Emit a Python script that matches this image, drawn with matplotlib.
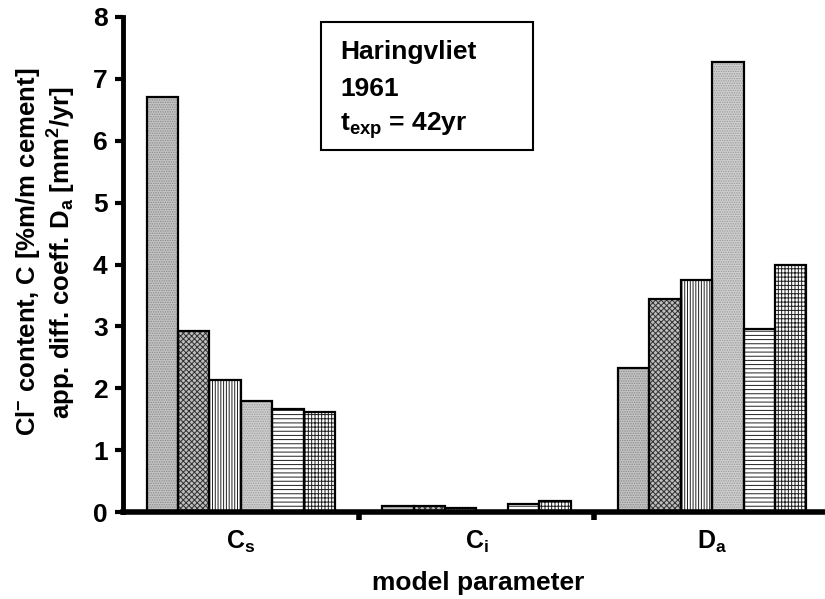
import numpy as np
import matplotlib.pyplot as plt
from matplotlib.patches import Rectangle

plt.rcParams['font.family'] = ['Liberation Sans', 'DejaVu Sans']
plt.rcParams['font.weight'] = 'bold'
plt.rcParams['mathtext.fontset'] = 'custom'
plt.rcParams['mathtext.rm'] = 'Liberation Sans:bold'
plt.rcParams['mathtext.bf'] = 'Liberation Sans:bold'
plt.rcParams['mathtext.it'] = 'Liberation Sans:bold'
plt.rcParams['hatch.linewidth'] = 0.7

# model parameters on the x axis
params = ['C$_{s}$', 'C$_{i}$', 'D$_{a}$']

# six series per parameter
s1 = [6.70, 0.09, 2.33]
s2 = [2.92, 0.09, 3.45]
s3 = [2.13, 0.06, 3.75]
s4 = [1.80, 0.00, 7.27]
s5 = [1.67, 0.13, 2.95]
s6 = [1.62, 0.17, 4.00]
series = [s1, s2, s3, s4, s5, s6]

# fill / hatch for each series
styles = [
    ('#c4c4c4', '#8a8a8a', '.......'),
    ('#bdbdbd', '#303030', 'xxxxxx'),
    ('white', '#202020', '||||||'),
    ('#cfcfcf', '#9a9a9a', '.......'),
    ('white', '#202020', '----'),
    ('white', '#202020', '|||||----'),
]

fig = plt.figure(figsize=(8.25, 5.99), dpi=100)
ax = fig.add_axes([123 / 825, (599 - 512) / 599, 707 / 825, 495 / 599])

x = np.arange(len(params))
w = 0.133
for i, vals in enumerate(series):
    pos = x + (i - 2.5) * w
    face, hc, hatch = styles[i]
    ax.bar(pos, vals, w, color=face, edgecolor=hc, hatch=hatch, linewidth=0, zorder=2)
    ax.bar(pos, vals, w, fill=False, edgecolor='black', linewidth=1.6, zorder=3)

ax.set_xlim(-0.5, 2.5)
ax.set_ylim(0, 8)
ax.set_yticks(range(0, 9))
ax.set_xticks([0.5, 1.5, 2.5])
ax.set_xticklabels([])
ax.set_xticks(x, minor=True)
ax.set_xticklabels(params, minor=True, fontsize=18)
ax.tick_params(axis='x', which='minor', length=0, pad=12)
ax.tick_params(axis='x', which='major', direction='out', length=6, width=4)
ax.tick_params(axis='y', direction='out', length=6, width=3, labelsize=19, pad=5)

for side in ['top', 'right']:
    ax.spines[side].set_visible(False)
ax.spines['left'].set_linewidth(3.5)
ax.spines['bottom'].set_linewidth(4)
ax.spines['bottom'].set_zorder(5)

fig.text(478 / 825, 1 - 583 / 599, 'model parameter', ha='center', va='center',
         fontsize=19, fontweight='bold')
fig.text(28 / 825, 1 - 252 / 599,
         'Cl$^{-}$ content, C [%m/m cement]',
         rotation=90, ha='center', va='center', fontsize=18.5, fontweight='bold')
fig.text(62 / 825, 1 - 252 / 599,
         'app. diff. coeff. D$_{a}$ [mm$^{2}$/yr]',
         rotation=90, ha='center', va='center', fontsize=18.5, fontweight='bold')

# info box
box = Rectangle((321 / 825, 1 - 150 / 599), 212 / 825, 128 / 599,
                transform=fig.transFigure, fill=False, edgecolor='black', linewidth=1.5)
fig.add_artist(box)
fig.text(340 / 825, 1 - 52 / 599, 'Haringvliet', fontsize=19, fontweight='bold', va='center')
fig.text(340 / 825, 1 - 89 / 599, '1961', fontsize=19, fontweight='bold', va='center')
fig.text(340 / 825, 1 - 126 / 599, 't$_{exp}$ = 42yr', fontsize=19, fontweight='bold', va='center')

fig.savefig('out.png', dpi=100)
